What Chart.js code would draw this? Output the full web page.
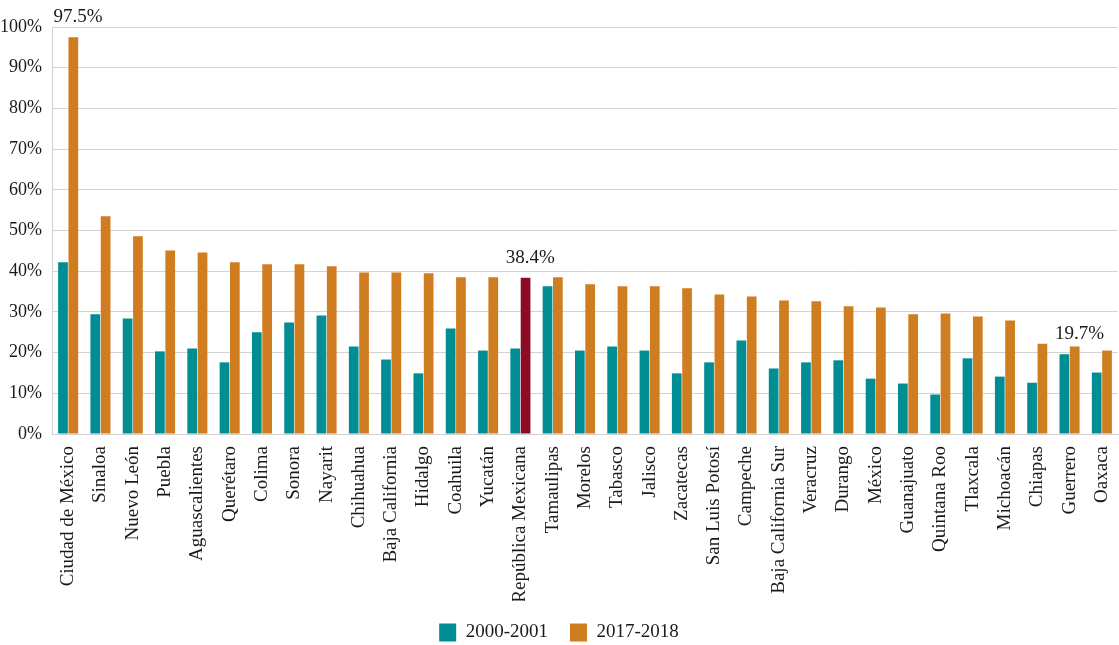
<!DOCTYPE html>
<html>
<head>
<meta charset="utf-8">
<script src="https://cdn.jsdelivr.net/npm/chart.js@4"></script>
<style>
  html, body { margin: 0; padding: 0; background: #ffffff; }
  #wrap { width: 1119px; height: 645px; position: relative; }
</style>
</head>
<body>
<div id="wrap"><canvas id="c"></canvas></div>
<script>
const categories = ["Ciudad de México","Sinaloa","Nuevo León","Puebla","Aguascalientes","Querétaro","Colima","Sonora","Nayarit","Chihuahua","Baja California","Hidalgo","Coahuila","Yucatán","República Mexicana","Tamaulipas","Morelos","Tabasco","Jalisco","Zacatecas","San Luis Potosí","Campeche","Baja California Sur","Veracruz","Durango","México","Guanajuato","Quintana Roo","Tlaxcala","Michoacán","Chiapas","Guerrero","Oaxaca"];
const series2000 = [42.2,29.4,28.4,20.3,21.0,17.6,25.0,27.4,29.1,21.5,18.3,14.9,25.9,20.5,21.0,36.3,20.5,21.5,20.5,14.9,17.6,23.0,16.1,17.6,18.1,13.6,12.4,9.7,18.6,14.1,12.6,19.6,15.1];
const series2017 = [97.5,53.5,48.6,45.1,44.6,42.2,41.7,41.7,41.2,39.7,39.7,39.5,38.5,38.5,38.4,38.5,36.8,36.3,36.3,35.8,34.3,33.8,32.8,32.6,31.4,31.1,29.4,29.6,28.9,27.9,22.2,21.5,20.5];
const seriesNames = ["2000-2001","2017-2018"];
const yTicks = [0,10,20,30,40,50,60,70,80,90,100];
const highlightCategory = "República Mexicana";
const annotCategories = ["Ciudad de México","República Mexicana","Guerrero"];
const annotValues = [97.5,38.4,19.7];

const TEAL = "#008D93";
const ORANGE = "#D07C21";
const RED = "#8D0C25";
const SERIF = "'Liberation Serif', 'Times New Roman', serif";

const orangeColors = categories.map(c => c === highlightCategory ? RED : ORANGE);

const annotPlugin = {
  id: 'annot',
  afterDatasetsDraw(chart) {
    const ctx = chart.ctx;
    const xs = chart.scales.x, ys = chart.scales.y;
    ctx.save();
    ctx.font = "19px " + SERIF;
    ctx.fillStyle = "#1a1a1a";
    ctx.textAlign = "center";
    ctx.textBaseline = "alphabetic";
    annotCategories.forEach((cat, i) => {
      const idx = categories.indexOf(cat);
      const x = xs.getPixelForValue(idx) + 10;
      const y = ys.getPixelForValue(annotValues[i]) - 15;
      ctx.fillText(annotValues[i].toFixed(1) + "%", x, y);
    });
    ctx.restore();
  }
};

new Chart(document.getElementById('c'), {
  type: 'bar',
  data: {
    labels: categories,
    datasets: [
      { label: seriesNames[0], data: series2000, backgroundColor: TEAL, categoryPercentage: 0.64, barPercentage: 0.94 },
      { label: seriesNames[1], data: series2017, backgroundColor: orangeColors, categoryPercentage: 0.64, barPercentage: 0.94 }
    ]
  },
  options: {
    responsive: true,
    maintainAspectRatio: false,
    animation: false,
    devicePixelRatio: 1,
    layout: { padding: { top: 27, right: 1, left: 0, bottom: -7 } },
    plugins: {
      tooltip: { enabled: false },
      legend: {
        position: 'bottom',
        labels: {
          font: { family: SERIF, size: 19 },
          color: "#1a1a1a",
          boxWidth: 17,
          boxHeight: 18,
          padding: 22,
          generateLabels(chart) {
            return chart.data.datasets.map((d, i) => ({
              text: d.label,
              fillStyle: i === 0 ? TEAL : ORANGE,
              strokeStyle: i === 0 ? TEAL : ORANGE,
              lineWidth: 0,
              datasetIndex: i,
              hidden: false,
              fontColor: "#1a1a1a"
            }));
          }
        }
      }
    },
    scales: {
      x: {
        grid: { display: false, drawTicks: false },
        border: { display: true, color: "#d0d0d0" },
        ticks: {
          font: { family: SERIF, size: 19 },
          color: "#1a1a1a",
          minRotation: 90,
          maxRotation: 90,
          autoSkip: false,
          padding: 12
        },
        afterFit(scale) {
          scale.height = 167;
          scale.paddingLeft = 0;
          scale.paddingRight = 0;
        }
      },
      y: {
        min: 0,
        max: 100,
        afterBuildTicks(scale) { scale.ticks = yTicks.map(v => ({ value: v })); },
        grid: { color: "#d3d3d3", lineWidth: 1, drawTicks: false },
        border: { display: true, color: "#d0d0d0" },
        ticks: {
          font: { family: SERIF, size: 18 },
          color: "#1a1a1a",
          padding: 10,
          callback: v => v + "%"
        },
        afterFit(scale) {
          scale.width = 52;
        }
      }
    }
  },
  plugins: [annotPlugin]
});
</script>
</body>
</html>
